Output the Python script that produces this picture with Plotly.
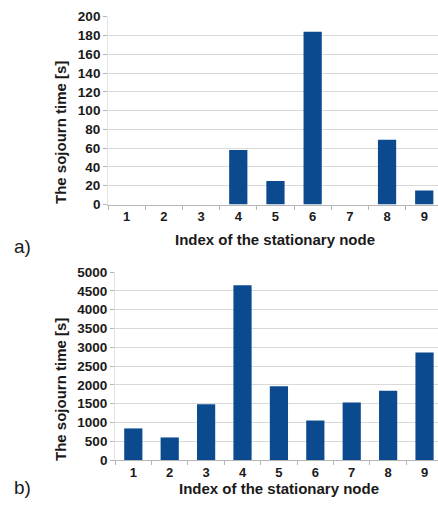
import plotly.graph_objects as go

W, H = 438, 506

nodes = ["1", "2", "3", "4", "5", "6", "7", "8", "9"]
sojourn_a = [0, 0, 0, 58, 25, 184, 0, 69, 15]
sojourn_b = [840, 600, 1480, 4650, 1960, 1050, 1530, 1840, 2860]
ticks_a = [0, 20, 40, 60, 80, 100, 120, 140, 160, 180, 200]
ticks_b = [0, 500, 1000, 1500, 2000, 2500, 3000, 3500, 4000, 4500, 5000]

BAR = "#0b4a8f"
GRID = "#d9d9d9"
AXIS = "#b5b5b5"
TXT = "#1a1a1a"
FONT = "Liberation Sans"

def py(p):
    return 1 - p / H

def px(p):
    return p / W

def bold(vals):
    return [f"<b>{v}</b>" for v in vals]

fig = go.Figure()
fig.add_trace(go.Bar(x=nodes, y=sojourn_a, marker=dict(color=BAR, line=dict(width=0)),
                     xaxis="x", yaxis="y", width=0.49))
fig.add_trace(go.Bar(x=nodes, y=sojourn_b, marker=dict(color=BAR, line=dict(width=0)),
                     xaxis="x2", yaxis="y2", width=0.5))

xcommon = dict(type="category", showgrid=False, showline=True, linecolor=AXIS, linewidth=1,
               ticks="outside", tickson="boundaries", ticklen=4, tickcolor=AXIS,
               tickmode="array", tickvals=nodes, ticktext=bold(nodes),
               tickfont=dict(family=FONT, size=13, color=TXT, weight="bold"),
               zeroline=False, fixedrange=True, automargin=False)
ycommon = dict(showgrid=True, gridcolor=GRID, gridwidth=1, showline=True, linecolor="#e3e3e3",
               ticks="outside", ticklen=4, tickcolor=AXIS,
               tickfont=dict(family=FONT, size=13.5, color=TXT, weight="bold"),
               zeroline=False, fixedrange=True, automargin=False)

fig.update_layout(
    template="none",
    width=W, height=H,
    margin=dict(l=0, r=0, t=0, b=0, autoexpand=False),
    paper_bgcolor="white", plot_bgcolor="white",
    showlegend=False, bargap=0.5,
    xaxis=dict(xcommon, domain=[px(108.1), 1], range=[-0.5, 8.37], anchor="y"),
    yaxis=dict(ycommon, domain=[py(204.5), py(16.7)], range=[0, 200],
               tickmode="array", tickvals=ticks_a, ticktext=bold(ticks_a), anchor="x"),
    xaxis2=dict(xcommon, domain=[px(115.1), 1], range=[-0.5, 8.37], anchor="y2"),
    yaxis2=dict(ycommon, domain=[py(460), py(272)], range=[0, 5000],
                tickmode="array", tickvals=ticks_b, ticktext=bold(ticks_b), anchor="x2"),
)

title_font = dict(family=FONT, size=15, color=TXT, weight="bold")
ann = [
    dict(text="The sojourn time [s]", x=px(60), y=py(133), textangle=-90, font=title_font),
    dict(text="Index of the stationary node", x=px(275), y=py(240), font=title_font),
    dict(text="The sojourn time [s]", x=px(60), y=py(390), textangle=-90, font=title_font),
    dict(text="Index of the stationary node", x=px(279), y=py(488), font=title_font),
    dict(text="a)", x=px(22), y=py(246), font=dict(family=FONT, size=19, color=TXT)),
    dict(text="b)", x=px(22), y=py(487), font=dict(family=FONT, size=19, color=TXT)),
]
for a in ann:
    a.update(xref="paper", yref="paper", showarrow=False, xanchor="center", yanchor="middle")
fig.update_layout(annotations=ann)

fig.write_html("out.html", config={"displayModeBar": False},
               post_script="document.body.style.margin='0';document.body.style.overflow='hidden';")
